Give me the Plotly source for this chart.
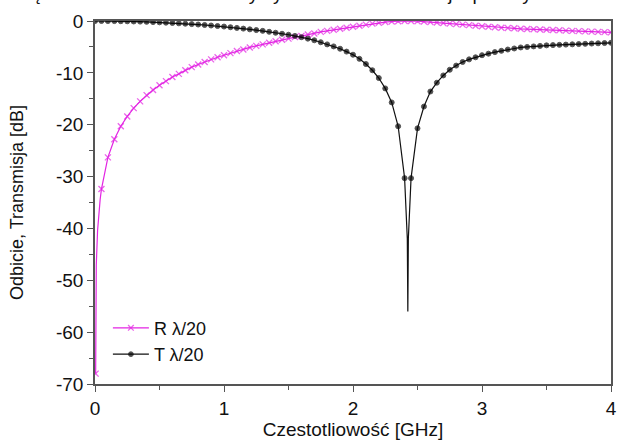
import plotly.graph_objects as go

# ---- data ----
R_freq = [0.005] + [round(0.05 * i, 2) for i in range(1, 81)]
R_db = [-68.0,
        -32.4, -26.3, -22.8, -20.3, -18.4, -16.8, -15.5, -14.3, -13.3, -12.4,
        -11.6, -10.8, -10.2, -9.5, -8.9, -8.4, -7.9, -7.4, -7.0, -6.6,
        -6.2, -5.8, -5.5, -5.1, -4.8, -4.5, -4.2, -3.9, -3.6, -3.4,
        -3.1, -2.9, -2.6, -2.4, -2.1, -1.9, -1.7, -1.5, -1.3, -1.1,
        -0.9, -0.7, -0.5, -0.35, -0.2, -0.1, -0.05, 0.0, 0.0, -0.05,
        -0.1, -0.2, -0.3, -0.4, -0.5, -0.6, -0.7, -0.8, -0.9, -1.0,
        -1.1, -1.2, -1.3, -1.35, -1.4, -1.5, -1.55, -1.6, -1.65, -1.7,
        -1.75, -1.8, -1.85, -1.9, -1.95, -2.0, -2.05, -2.1, -2.15, -2.2]
# extra (unmarked) samples of the R line near 0 GHz
R_extra_freq = [0.008, 0.01, 0.02, 0.03, 0.04]
R_extra_db = [-55.0, -47.0, -40.4, -36.9, -34.4]

T_freq = [round(0.05 * i, 2) for i in range(0, 81)]
T_db = [0.0, 0.0, -0.01, -0.02, -0.04, -0.06, -0.09, -0.12, -0.16, -0.21,
        -0.26, -0.32, -0.38, -0.45, -0.52, -0.6, -0.68, -0.77, -0.87, -0.97,
        -1.07, -1.2, -1.33, -1.47, -1.61, -1.75, -1.9, -2.08, -2.27, -2.46,
        -2.65, -2.88, -3.12, -3.4, -3.72, -4.1, -4.51, -4.9, -5.35, -5.9,
        -6.5, -7.3, -8.3, -9.5, -11.0, -13.0, -15.7, -20.3, -30.3, -30.3,
        -20.7, -16.5, -13.6, -11.9, -10.5, -9.4, -8.6, -7.9, -7.4, -7.0,
        -6.6, -6.3, -6.0, -5.75, -5.5, -5.3, -5.1, -5.0, -4.9, -4.8,
        -4.7, -4.65, -4.6, -4.55, -4.5, -4.45, -4.4, -4.35, -4.3, -4.25, -4.2]
# extra (unmarked) samples of the T line at the notch
T_extra_freq = [2.421, 2.425, 2.429]
T_extra_db = [-42.0, -56.0, -42.0]

x_ticks = [0, 1, 2, 3, 4]
y_ticks = [0, -10, -20, -30, -40, -50, -60, -70]

R_name = "R λ/20"
T_name = "T λ/20"
x_title = "Czestotliowość [GHz]"
y_title = "Odbicie, Transmisja [dB]"
top_text = "Częstotliwościowe charakterystyki odbicia i transmisji apertury w ekranie"


def merge(f_main, v_main, f_extra, v_extra, msize):
    pts = [(f, v, msize) for f, v in zip(f_main, v_main)] + \
          [(f, v, 0) for f, v in zip(f_extra, v_extra)]
    pts.sort(key=lambda p: p[0])
    return [p[0] for p in pts], [p[1] for p in pts], [p[2] for p in pts]


MAG = "#e324e3"
rx, ry, rs = merge(R_freq, R_db, R_extra_freq, R_extra_db, 6)
tx, ty, ts = merge(T_freq, T_db, T_extra_freq, T_extra_db, 5)

fig = go.Figure()
fig.add_trace(go.Scatter(
    x=rx, y=ry, mode="lines+markers", name=R_name,
    line=dict(color=MAG, width=1.2),
    marker=dict(symbol="x-thin", size=rs, color=MAG,
                line=dict(color=MAG, width=1.3)),
))
fig.add_trace(go.Scatter(
    x=tx, y=ty, mode="lines+markers", name=T_name,
    line=dict(color="#111111", width=1.2),
    marker=dict(symbol="circle", size=ts, color="#000000"),
))

FONT = "Arial, 'Liberation Sans', sans-serif"
fig.update_layout(
    width=622, height=441,
    margin=dict(l=95, r=5, t=21, b=55),
    paper_bgcolor="white", plot_bgcolor="white",
    font=dict(family=FONT, size=17, color="#111111"),
    showlegend=True,
    legend=dict(x=0.025, y=0.205, xanchor="left", yanchor="top",
                bgcolor="rgba(0,0,0,0)", font=dict(size=18),
                tracegroupgap=0, itemwidth=36),
    annotations=[dict(text=top_text, xref="paper", yref="paper",
                      x=-0.17, y=1.0415, xanchor="left", yanchor="bottom",
                      showarrow=False, font=dict(size=19, color="#111111"))],
)
fig.update_xaxes(
    range=[0, 4], tickvals=x_ticks, ticktext=[str(v) for v in x_ticks],
    showgrid=False, zeroline=False, showline=True, mirror=True,
    linecolor="#555555", linewidth=1.5,
    ticks="outside", ticklen=6, tickwidth=1.3, tickcolor="#555555",
    minor=dict(dtick=0.5, ticks="outside", ticklen=4, tickcolor="#555555", tickwidth=1.2),
    title=dict(text=x_title, font=dict(size=19), standoff=4),
    tickfont=dict(size=19),
)
fig.update_yaxes(
    range=[-70, 0], tickvals=y_ticks, ticktext=[str(v) for v in y_ticks],
    showgrid=False, zeroline=False, showline=True, mirror=True,
    linecolor="#555555", linewidth=1.5,
    ticks="outside", ticklen=6, tickwidth=1.3, tickcolor="#555555",
    minor=dict(dtick=5, ticks="outside", ticklen=4, tickcolor="#555555", tickwidth=1.2),
    title=dict(text=y_title, font=dict(size=18), standoff=28),
    tickfont=dict(size=19),
)

fig.write_html("out.html", config={"displayModeBar": False},
               post_script="document.body.style.margin='0';document.body.style.overflow='hidden';")
